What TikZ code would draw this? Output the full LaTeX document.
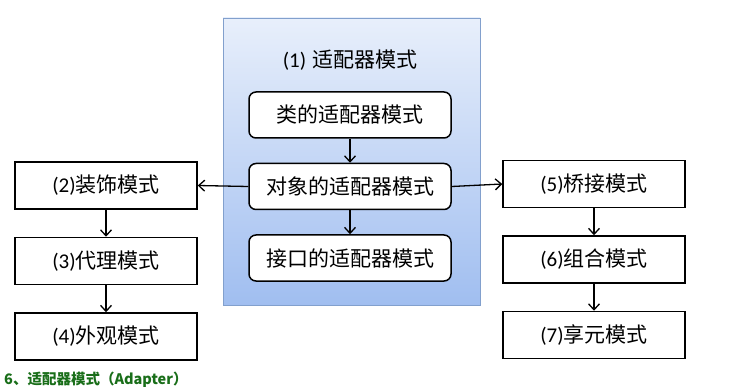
\documentclass[tikz,border=0pt]{standalone}
\usepackage{fontspec}
\setmainfont{Carlito}
\newfontfamily\cjk{Noto Sans CJK SC}
\usepackage{xcolor}
\usetikzlibrary{arrows.meta,positioning}
\definecolor{paneltop}{RGB}{232,239,251}
\definecolor{panelbot}{RGB}{160,190,240}
\definecolor{panelline}{RGB}{130,160,205}
\definecolor{capgreen}{RGB}{25,110,25}

\begin{document}
\begin{tikzpicture}[
  x=1pt, y=-1pt,
  node distance=27pt,
  box/.style={draw, line width=1.5pt, fill=white, align=center,
              font=\fontsize{21}{24}\selectfont,
              minimum width=182pt, minimum height=47pt, inner sep=0pt},
  rbox/.style={box, rounded corners=7pt, minimum width=202pt, minimum height=46pt},
  panel/.style={draw=panelline, line width=0.8pt, top color=paneltop, bottom color=panelbot,
                minimum width=257pt, minimum height=287pt, inner sep=0pt},
  arr/.style={line width=1.3pt, -{Straight Barb[length=6pt,width=11pt]}}]
\useasboundingbox (0,0) rectangle (730,387);
\node[panel] (adapter) at (351.5,161.5) {};
\node[font=\fontsize{21}{24}\selectfont] (title) at (350,60) {(1)\hspace{6pt}\cjk 适配器模式};
\node[rbox] (cls) at (350,115) {\cjk 类的适配器模式};
\node[rbox, below=24pt of cls] (obj) {\cjk 对象的适配器模式};
\node[rbox, below=24pt of obj] (iface) {\cjk 接口的适配器模式};
% left column
\node[box] (deco) at (106,185.5) {(2)\cjk 装饰模式};
\node[box, below=of deco] (proxy) {(3)\cjk 代理模式};
\node[box, below=of proxy] (facade) {(4)\cjk 外观模式};
% right column
\node[box] (bridge) at (594,184) {(5)\cjk 桥接模式};
\node[box, below=of bridge] (comp) {(6)\cjk 组合模式};
\node[box, below=of comp] (flyw) {(7)\cjk 享元模式};
\foreach \a/\b in {cls/obj,obj/iface,deco/proxy,proxy/facade,bridge/comp,comp/flyw}
  \draw[arr] (\a) -- (\b);
\draw[arr] (obj.west) -- (deco.east);
\draw[arr] (obj.east) -- (bridge.west);
\node[anchor=west, text=capgreen, inner sep=0pt,
      font=\cjk\bfseries\fontsize{14.5}{16}\selectfont] (caption) at (4,380) {6、适配器模式（Adapter）};
\end{tikzpicture}
\end{document}
